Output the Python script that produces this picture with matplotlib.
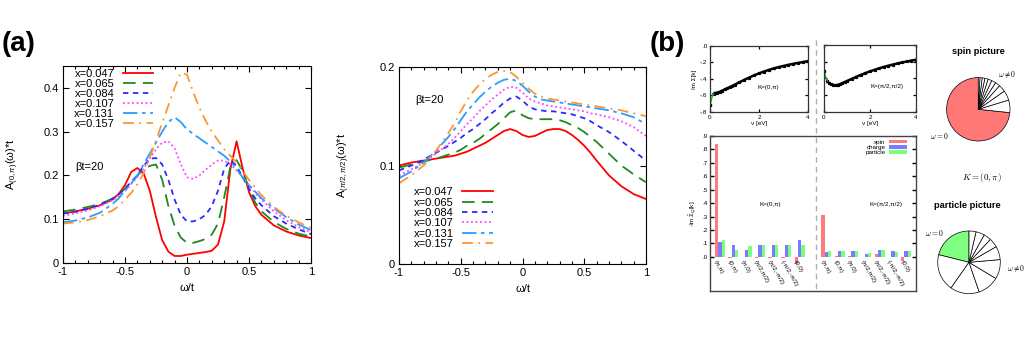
import matplotlib
matplotlib.use('Agg')
import matplotlib.pyplot as plt
from matplotlib.lines import Line2D
from matplotlib.ticker import MultipleLocator, FuncFormatter
import numpy as np

plt.rcParams['font.family'] = ['Liberation Sans', 'DejaVu Sans']
plt.rcParams['mathtext.fontset'] = 'custom'
plt.rcParams['mathtext.rm'] = 'Liberation Sans'
plt.rcParams['mathtext.it'] = 'Liberation Sans:italic'
plt.rcParams['mathtext.bf'] = 'Liberation Sans:bold'

# ---------------- data: panel (a) ----------------
dopings = ['x=0.047', 'x=0.065', 'x=0.084', 'x=0.107', 'x=0.131', 'x=0.157']
omega = [-1.0, -0.9, -0.8, -0.7, -0.6, -0.55, -0.5, -0.45, -0.4, -0.35, -0.3, -0.25,
         -0.2, -0.15, -0.1, -0.05, 0.0, 0.05, 0.1, 0.15, 0.2, 0.25, 0.3, 0.35, 0.4,
         0.45, 0.5, 0.55, 0.6, 0.7, 0.8, 0.9, 1.0]

# A_(0,pi)(w)*t
a0pi_047 = [0.113, 0.118, 0.124, 0.132, 0.145, 0.158, 0.178, 0.208, 0.217, 0.205, 0.165, 0.105,
            0.052, 0.026, 0.016, 0.016, 0.019, 0.021, 0.023, 0.025, 0.028, 0.042, 0.095, 0.215,
            0.278, 0.215, 0.162, 0.13, 0.11, 0.086, 0.072, 0.063, 0.057]
a0pi_065 = [0.118, 0.122, 0.128, 0.135, 0.147, 0.157, 0.17, 0.185, 0.2, 0.213, 0.222, 0.225,
            0.19, 0.13, 0.085, 0.058, 0.046, 0.046, 0.05, 0.055, 0.065, 0.09, 0.15, 0.22,
            0.235, 0.21, 0.17, 0.138, 0.118, 0.094, 0.078, 0.067, 0.06]
a0pi_084 = [0.113, 0.117, 0.124, 0.133, 0.147, 0.157, 0.17, 0.185, 0.2, 0.222, 0.238, 0.24,
            0.225, 0.19, 0.145, 0.11, 0.095, 0.095, 0.1, 0.11, 0.13, 0.165, 0.215, 0.235,
            0.222, 0.195, 0.17, 0.148, 0.132, 0.107, 0.09, 0.077, 0.066]
a0pi_107 = [0.108, 0.113, 0.12, 0.13, 0.143, 0.153, 0.165, 0.18, 0.197, 0.215, 0.238, 0.26,
            0.275, 0.278, 0.262, 0.225, 0.196, 0.192, 0.2, 0.213, 0.225, 0.234, 0.234, 0.225,
            0.212, 0.195, 0.178, 0.16, 0.145, 0.118, 0.098, 0.082, 0.07]
a0pi_131 = [0.093, 0.097, 0.104, 0.115, 0.135, 0.148, 0.165, 0.182, 0.2, 0.225, 0.25, 0.275,
            0.3, 0.322, 0.333, 0.322, 0.305, 0.295, 0.285, 0.275, 0.265, 0.255, 0.245, 0.232,
            0.215, 0.195, 0.178, 0.163, 0.148, 0.125, 0.105, 0.088, 0.075]
a0pi_157 = [0.09, 0.093, 0.098, 0.107, 0.12, 0.13, 0.145, 0.16, 0.18, 0.205, 0.24, 0.28,
            0.32, 0.36, 0.4, 0.435, 0.43, 0.39, 0.355, 0.325, 0.3, 0.28, 0.26, 0.245,
            0.23, 0.21, 0.19, 0.172, 0.155, 0.128, 0.108, 0.093, 0.08]

# A_(pi/2,pi/2)(w)*t
anod_047 = [0.1, 0.103, 0.105, 0.107, 0.109, 0.11, 0.112, 0.114, 0.117, 0.12, 0.123, 0.127,
            0.131, 0.135, 0.137, 0.135, 0.131, 0.129, 0.13, 0.133, 0.136, 0.137, 0.137, 0.135,
            0.131, 0.126, 0.12, 0.113, 0.105, 0.09, 0.079, 0.071, 0.066]
anod_065 = [0.098, 0.101, 0.104, 0.107, 0.111, 0.113, 0.116, 0.12, 0.123, 0.127, 0.132, 0.137,
            0.142, 0.148, 0.154, 0.156, 0.151, 0.148, 0.147, 0.147, 0.147, 0.147, 0.146, 0.144,
            0.141, 0.138, 0.134, 0.129, 0.124, 0.112, 0.1, 0.091, 0.083]
anod_084 = [0.095, 0.1, 0.106, 0.113, 0.12, 0.124, 0.128, 0.133, 0.137, 0.142, 0.147, 0.153,
            0.158, 0.164, 0.168, 0.17, 0.166, 0.16, 0.157, 0.156, 0.155, 0.155, 0.154, 0.153,
            0.152, 0.15, 0.148, 0.145, 0.141, 0.134, 0.125, 0.115, 0.105]
anod_107 = [0.09, 0.096, 0.103, 0.112, 0.122, 0.128, 0.135, 0.142, 0.148, 0.155, 0.161, 0.167,
            0.172, 0.177, 0.18, 0.179, 0.174, 0.168, 0.165, 0.163, 0.161, 0.16, 0.159, 0.158,
            0.157, 0.156, 0.155, 0.153, 0.152, 0.149, 0.145, 0.139, 0.13]
anod_131 = [0.087, 0.094, 0.103, 0.115, 0.129, 0.137, 0.146, 0.155, 0.162, 0.169, 0.175, 0.18,
            0.184, 0.187, 0.188, 0.186, 0.181, 0.175, 0.17, 0.167, 0.166, 0.165, 0.164, 0.163,
            0.162, 0.161, 0.16, 0.159, 0.158, 0.156, 0.153, 0.149, 0.142]
anod_157 = [0.082, 0.09, 0.1, 0.115, 0.133, 0.143, 0.155, 0.166, 0.175, 0.182, 0.188, 0.192,
            0.195, 0.196, 0.195, 0.19, 0.184, 0.178, 0.173, 0.17, 0.168, 0.167, 0.166, 0.165,
            0.164, 0.163, 0.162, 0.161, 0.16, 0.158, 0.156, 0.153, 0.15]

curves_antinode = [a0pi_047, a0pi_065, a0pi_084, a0pi_107, a0pi_131, a0pi_157]
curves_node = [anod_047, anod_065, anod_084, anod_107, anod_131, anod_157]

# ---------------- data: panel (b) ----------------
nu = [0.0, 0.05, 0.1, 0.15, 0.2, 0.3, 0.4, 0.5, 0.6, 0.7, 0.8, 0.9, 1.0, 1.2, 1.4,
      1.6, 1.8, 2.0, 2.2, 2.4, 2.6, 2.8, 3.0, 3.2, 3.4, 3.6, 3.8, 4.0]
imsig_0pi = [-0.72, -0.66, -0.6, -0.58, -0.57, -0.565, -0.555, -0.54, -0.527, -0.513, -0.499,
             -0.485, -0.47, -0.44, -0.41, -0.382, -0.356, -0.332, -0.31, -0.29, -0.272,
             -0.256, -0.242, -0.228, -0.216, -0.205, -0.194, -0.183]
imsig_nod = [-0.31, -0.36, -0.40, -0.43, -0.45, -0.47, -0.478, -0.48, -0.476, -0.468,
             -0.455, -0.442, -0.43, -0.405, -0.38, -0.357, -0.335, -0.315, -0.296, -0.278,
             -0.262, -0.247, -0.233, -0.22, -0.208, -0.197, -0.186, -0.176]

q_labels = ['(π,π)', '(0,π)', '(π,0)', '(π/2,π/2)', '(π/2,-π/2)', '(-π/2,-π/2)', '(0,0)']
spin_0pi = [0.84, -0.01, 0.0, -0.01, -0.01, -0.01, -0.055]
charge_0pi = [0.11, 0.09, 0.05, 0.09, 0.09, 0.09, 0.125]
particle_0pi = [0.125, 0.05, 0.08, 0.09, 0.09, 0.09, 0.09]
spin_nod = [0.31, 0.005, 0.005, -0.005, 0.02, 0.0, -0.03]
charge_nod = [0.035, 0.04, 0.04, 0.02, 0.05, 0.04, 0.04]
particle_nod = [0.04, 0.04, 0.04, 0.025, 0.05, 0.035, 0.04]

# pie slices, degrees
spin_pie = [264, 23, 18, 13, 9, 8, 7, 6, 5, 4, 3]
particle_pie = [76, 69, 54, 40, 36, 25, 17, 14, 16, 13]

# ---------------- styles ----------------
colors = ['#ff0000', '#1f8a1f', '#2a2aff', '#ff44ff', '#2a9dff', '#ff9530']
dashes = [(None, None), (7, 4), (3, 2.5), (1, 1.5), (8, 2.5, 2, 2.5), (6, 3, 1, 3)]

W, H = 1030, 361
fig = plt.figure(figsize=(W / 100, H / 100), dpi=100)


def box(l, t, r, b):
    return [l / W, 1 - b / H, (r - l) / W, (b - t) / H]


def gp_axes(ax, size=8, length=4, lw=0.8):
    ax.tick_params(which='both', direction='in', top=True, right=True,
                   labelsize=size, width=lw, pad=3)
    ax.tick_params(which='major', length=length)
    ax.tick_params(which='minor', length=length / 2)
    for s in ax.spines.values():
        s.set_linewidth(lw)


def gfmt(v, p):
    return f'{v:g}'


def nolead(v, p):
    s = f'{v:.1f}'
    if s == '-0.0':
        s = '0.0'
    return s.replace('0.', '.', 1)


def spectra(ax, curves, ylim, ylabel):
    for lab, y, c, d in zip(dopings, curves, colors, dashes):
        ln, = ax.plot(omega, y, color=c, lw=1.3, label=lab)
        if d[0] is not None:
            ln.set_dashes(d)
    ax.set_xlim(-1, 1)
    ax.set_ylim(*ylim)
    ax.xaxis.set_major_locator(MultipleLocator(0.5))
    ax.xaxis.set_minor_locator(MultipleLocator(0.1))
    ax.yaxis.set_major_locator(MultipleLocator(0.1))
    ax.xaxis.set_major_formatter(FuncFormatter(gfmt))
    ax.yaxis.set_major_formatter(FuncFormatter(gfmt))
    gp_axes(ax)
    ax.set_xlabel('ω/t', fontsize=8, labelpad=4)
    ax.set_ylabel(ylabel, fontsize=8)


ax1 = fig.add_axes(box(63, 66, 311, 263))
spectra(ax1, curves_antinode, (0, 0.45), r'A$_{(0,π)}$(ω)*t')
ax1.yaxis.set_label_coords(-0.17, 0.5)
ax1.legend(loc='upper left', bbox_to_anchor=(0.045, 0.985), frameon=False, fontsize=8,
           markerfirst=False, handlelength=2.7, handletextpad=0.8, labelspacing=0.0,
           borderpad=0, borderaxespad=0)
ax1.text(0.05, 0.487, 'βt=20', transform=ax1.transAxes, fontsize=8, va='center')

ax2 = fig.add_axes(box(399, 67, 646, 264))
spectra(ax2, curves_node, (0, 0.2), r'A$_{(π/2,π/2)}$(ω)*t')
ax2.yaxis.set_label_coords(-0.19, 0.5)
ax2.legend(loc='upper left', bbox_to_anchor=(0.06, 0.39), frameon=False, fontsize=8,
           markerfirst=False, handlelength=2.8, handletextpad=0.7, labelspacing=0.03,
           borderpad=0, borderaxespad=0)
ax2.text(0.065, 0.832, 'βt=20', transform=ax2.transAxes, fontsize=8, va='center')

fig.text(2 / W, 1 - 31 / H, '(a)', fontsize=20, fontweight='bold', va='top')
fig.text(650 / W, 1 - 31 / H, '(b)', fontsize=20, fontweight='bold', va='top')

# ---------------- (b) self-energy panels ----------------
small = 4.5


def sigma_panel(ax, vals, label, lx):
    ax.plot(nu[3:], vals[3:], color='black', lw=1.8, marker='s', ms=1.3)
    ax.plot(nu[:4], vals[:4], color='#22aa22', lw=1.0)
    ax.plot(nu[:1], vals[:1], color='black', marker='s', ms=1.6, lw=0)
    ax.set_xlim(0, 4)
    ax.set_ylim(-0.8, 0)
    ax.set_xticks([0, 2, 4])
    ax.yaxis.set_major_locator(MultipleLocator(0.2))
    ax.yaxis.set_major_formatter(FuncFormatter(nolead))
    gp_axes(ax, size=small, length=2.5, lw=0.9)
    ax.tick_params(pad=2)
    for s in ax.spines.values():
        s.set_color('#333333')
    ax.set_xlabel('ν [eV]', fontsize=small, labelpad=1)
    ax.text(lx, -0.5, label, fontsize=small, ha='center', va='center')


bs1 = fig.add_axes(box(710, 46, 808, 112))
sigma_panel(bs1, imsig_0pi, 'K=(0,π)', 2.37)
bs1.set_ylabel('Im Σ[k]', fontsize=small, labelpad=2)

bs2 = fig.add_axes(box(824, 45, 916, 112))
sigma_panel(bs2, imsig_nod, 'K=(π/2,π/2)', 2.73)
bs2.set_yticklabels([])

# ---------------- (b) bar chart ----------------
bw = 0.25
pos_0pi = np.arange(7)
pos_nod = np.arange(7) + 8
bb = fig.add_axes(box(710, 136, 916, 291))
bar_colors = ['#ff7b7b', '#7b7bff', '#7bff7b']
for pos, s, c, p in [(pos_0pi, spin_0pi, charge_0pi, particle_0pi),
                     (pos_nod, spin_nod, charge_nod, particle_nod)]:
    lab = pos is pos_0pi
    bb.bar(pos - bw, s, bw, color=bar_colors[0], label='spin' if lab else None)
    bb.bar(pos, c, bw, color=bar_colors[1], label='charge' if lab else None)
    bb.bar(pos + bw, p, bw, color=bar_colors[2], label='particle' if lab else None)
    for x, q in zip(pos, q_labels):
        bb.text(x - 0.2, -0.02, q, fontsize=small, rotation=-60, rotation_mode='anchor',
                ha='left', va='top')
bb.set_xlim(-0.75, 14.74)
bb.set_ylim(-0.255, 0.9)
bb.set_xticks([])
bb.set_yticks(np.arange(0, 0.95, 0.1))
bb.yaxis.set_major_formatter(FuncFormatter(nolead))
gp_axes(bb, size=small, length=3, lw=1.0)
bb.tick_params(top=False, pad=2)
for s in bb.spines.values():
    s.set_color('#444444')
bb.set_ylabel(r'-Im $\tilde{Σ}_Q$[k]', fontsize=small, labelpad=2)
bb.text(3.81, 0.39, 'K=(0,π)', fontsize=small, ha='center', va='center')
bb.text(12.45, 0.39, 'K=(π/2,π/2)', fontsize=small, ha='center', va='center')
bb.legend(loc='upper right', bbox_to_anchor=(0.956, 0.976), frameon=False, fontsize=small,
          markerfirst=False, handlelength=2.9, handleheight=0.5, handletextpad=0.5,
          labelspacing=0.05, borderpad=0, borderaxespad=0)

fig.add_artist(Line2D([816 / W, 816 / W], [1 - 40 / H, 1 - 291 / H], transform=fig.transFigure,
                      color='#b0b0b0', lw=1.0, dashes=(4, 3)))

# ---------------- (b) pies ----------------
def pie_panel(rect, fracs, first_color):
    ax = fig.add_axes(rect)
    cols = [first_color] + ['white'] * (len(fracs) - 1)
    ax.pie(fracs, colors=cols, startangle=90, counterclock=True,
           wedgeprops={'edgecolor': 'black', 'linewidth': 0.5})
    ax.set_xlim(-1.05, 1.05)
    ax.set_ylim(-1.05, 1.05)
    ax.set_aspect('equal')
    return ax


r1 = 31.7 * 1.05
pie_panel(box(978.3 - r1, 109.3 - r1, 978.3 + r1, 109.3 + r1), spin_pie, '#ff7777')
r2 = 31.3 * 1.05
pie_panel(box(969 - r2, 262.3 - r2, 969 + r2, 262.3 + r2), particle_pie, '#80ff80')

fig.text(978 / W, 1 - 52 / H, 'spin picture', fontsize=6.7, fontweight='bold',
         ha='center', va='center')
fig.text(967 / W, 1 - 206 / H, 'particle picture', fontsize=6.7, fontweight='bold',
         ha='center', va='center')
fig.text(982 / W, 1 - 177 / H, r'$K = (0,\pi)$', fontsize=6.5, ha='center', va='center',
         math_fontfamily='cm')
fig.text(939 / W, 1 - 136 / H, r'$\omega = 0$', fontsize=5.5, ha='center', va='center',
         math_fontfamily='cm')
fig.text(1007 / W, 1 - 75 / H, r'$\omega \neq 0$', fontsize=5.5, ha='center', va='center',
         math_fontfamily='cm')
fig.text(934 / W, 1 - 233 / H, r'$\omega = 0$', fontsize=5.5, ha='center', va='center',
         math_fontfamily='cm')
fig.text(1016 / W, 1 - 269 / H, r'$\omega \neq 0$', fontsize=5.5, ha='center', va='center',
         math_fontfamily='cm')

fig.savefig('out.png', dpi=100)
